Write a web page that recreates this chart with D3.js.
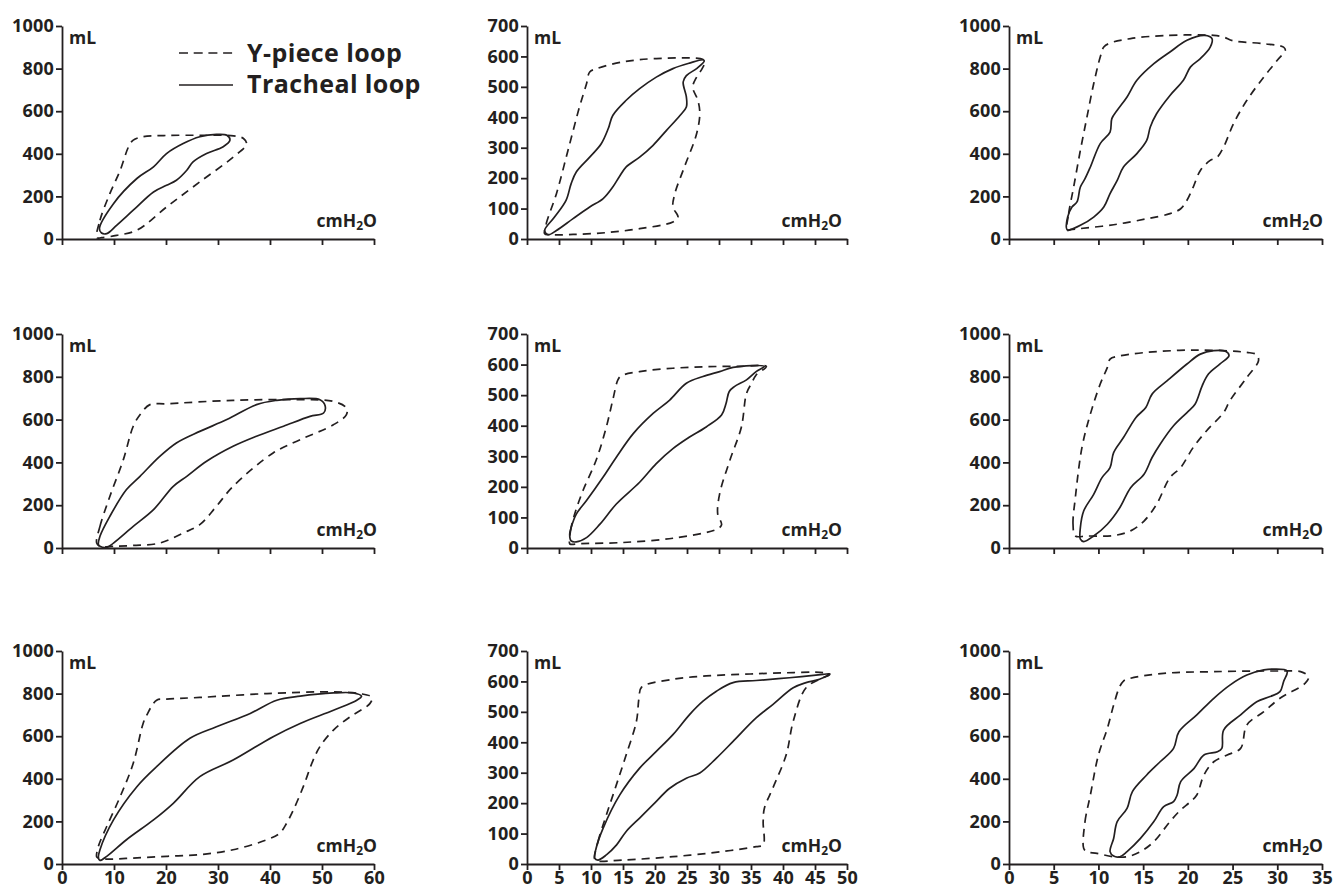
<!DOCTYPE html>
<html>
<head>
<meta charset="utf-8">
<script src="https://cdn.jsdelivr.net/npm/d3@7"></script>
<style>
  html, body { margin: 0; padding: 0; background: #fff; }
  svg { display: block; }
  .tick text { font-family: "Open Sans", sans-serif; font-weight: 700; font-size: 18px; fill: #231f20; letter-spacing: 0.2px; }
  .lbl { font-family: "Open Sans", sans-serif; font-weight: 700; font-size: 17.5px; fill: #231f20; }
  .leg { font-family: "Open Sans", sans-serif; font-weight: 700; font-size: 25px; fill: #231f20; letter-spacing: 0.4px; }
</style>
</head>
<body>
<svg id="chart" width="1336" height="887"></svg>
<script>
// ---------- DATA ----------
const seriesNames = ["Y-piece loop", "Tracheal loop"];
const xUnit = "cmH\u2082O";
const yUnit = "mL";

const xTicksCol1 = [0, 10, 20, 30, 40, 50, 60];
const xTicksCol2 = [0, 5, 10, 15, 20, 25, 30, 35, 40, 45, 50];
const xTicksCol3 = [0, 5, 10, 15, 20, 25, 30, 35];
const yTicksCol1 = [0, 200, 400, 600, 800, 1000];
const yTicksCol2 = [0, 100, 200, 300, 400, 500, 600, 700];
const yTicksCol3 = [0, 200, 400, 600, 800, 1000];

// Panel 1 (row 1, col 1)
const p1Ypiece = [[6.7,6],[7.3,88],[9.2,213],[11.2,323],[12.8,433],[13.7,464],[15.6,480],[20.1,486],[26.5,487],[33,484],[34.9,472],[35.5,446],[33,386],[26.5,268],[20.1,150],[14.4,41],[10.5,17],[7.6,6]];
const p1Tracheal = [[7.2,49],[9.9,166],[14.4,284],[17.6,339],[20.1,401],[23.3,448],[26.5,480],[29.7,491],[31.7,487],[32.3,464],[31,433],[27.8,401],[25.2,362],[24,323],[22,276],[20.1,252],[17.6,221],[13.7,135],[10.5,64],[8.6,25],[7.6,28]];
// Panel 2 (row 1, col 2)
const p2Ypiece = [[2.76,17],[3.0,50],[4.6,149],[6.4,291],[8.2,434],[9.3,510],[9.8,549],[10.9,560],[15,582],[20.2,593],[27.5,590],[27.8,582],[27.2,554],[26.5,532],[25.9,499],[26.7,456],[27,412],[26.5,346],[24.6,237],[23.1,149],[22.8,105],[23.6,72],[22.8,56],[17.6,34],[12.4,21],[7.2,15],[3.5,14]];
const p2Tracheal = [[2.76,28],[4.3,72],[6.1,127],[6.9,182],[7.7,220],[9.8,269],[11.6,313],[12.7,363],[13.4,406],[15.5,456],[17.6,494],[20.2,532],[22.8,560],[25.4,578],[27.5,589],[27.7,585],[26.5,560],[24.9,537],[24.4,516],[24.9,467],[24.9,434],[23.9,406],[21.8,357],[19.7,308],[17.6,269],[15.5,237],[14.4,204],[13.4,171],[11.9,133],[9.8,105],[7.2,67],[4.6,28],[3.3,14]];
// Panel 3 (row 1, col 3)
const p3Ypiece = [[6.49,41],[6.67,119],[7.23,244],[7.98,416],[8.72,573],[9.47,729],[10.2,854],[10.6,901],[11.3,920],[13.6,941],[17.3,955],[22.9,956],[24,948],[25.1,930],[28.5,917],[30.7,901],[30.9,886],[30,839],[28.5,761],[26.6,651],[25.1,541],[24,432],[23.3,385],[22.5,369],[21.4,322],[20.6,244],[19.9,182],[19.2,142],[18,119],[15.4,95],[11.7,67],[8,49],[6.9,44]];
const p3Tracheal = [[6.49,44],[6.56,103],[7.04,150],[7.6,174],[7.98,244],[8.5,283],[9.1,338],[10.2,448],[11.3,502],[11.5,565],[12.1,604],[13.2,667],[14.3,745],[16.2,823],[18,878],[19.9,933],[21.9,956],[22.7,941],[22.5,901],[21.4,847],[20.3,808],[19.5,745],[18,674],[16.5,588],[15.8,526],[15.4,463],[14.3,401],[12.8,338],[12.1,275],[11.3,213],[10.6,150],[9.47,103],[7.98,64],[6.86,44]];
// Panel 4 (row 2, col 1)
const p4Ypiece = [[6.67,23],[7.3,101],[9.2,241],[11.8,413],[13.7,569],[15,623],[16.9,670],[20.1,674],[32.9,690],[45.6,693],[52.2,685],[54.7,654],[54.7,623],[52.2,576],[45.8,506],[40.6,444],[32.9,288],[29.7,195],[26.5,109],[23.3,70],[18.8,23],[13.7,12],[9.9,8],[7.3,8]];
const p4Tracheal = [[7,16],[7.3,55],[9.2,148],[12.4,273],[15,335],[18.8,428],[22,491],[26.5,545],[31.7,600],[37.4,670],[41.3,690],[45.8,698],[49.6,693],[50.6,665],[50.3,631],[47.7,615],[42.6,569],[37.4,522],[32.9,475],[27.8,405],[24,335],[21.4,288],[17.6,179],[13.7,101],[9.9,23],[8.6,3],[7.3,8]];
// Panel 5 (row 2, col 2)
const p5Ypiece = [[6.67,14],[6.8,56],[7.45,111],[8.75,188],[10.8,287],[12.4,396],[13.4,484],[14.2,550],[14.7,563],[17.6,577],[22.8,588],[28,593],[33.2,594],[37.4,594],[35.8,566],[35.1,539],[34.3,506],[33.5,396],[31.7,287],[30.1,177],[29.8,111],[30.4,76],[29.6,61],[22.8,32],[15,18],[8.2,14],[6.9,12]];
const p5Tracheal = [[6.67,45],[6.9,67],[7.7,111],[9.3,155],[11.9,232],[13.96,297],[16.6,374],[19.7,440],[22.3,484],[24.9,539],[27.5,561],[30.1,577],[32.2,591],[37.1,594],[35.8,577],[34.3,550],[32.4,528],[31.6,512],[31.1,473],[30.4,435],[28,396],[25.4,363],[22.8,325],[20.2,276],[17.6,215],[13.96,144],[11.4,78],[9.3,34],[7.7,20],[6.9,23]];
// Panel 6 (row 2, col 3)
const p6Ypiece = [[7.42,56],[7.16,111],[7.42,236],[8.16,470],[9.1,626],[10.2,766],[11,844],[11.3,883],[12.1,895],[15.4,914],[21,925],[26.6,914],[27.7,903],[27.9,875],[26.6,797],[24.7,688],[24,633],[22.1,548],[20.6,470],[19.2,376],[18,329],[16.5,204],[15.1,126],[13.6,80],[11.7,58],[8.7,56]];
const p6Tracheal = [[7.98,41],[7.98,95],[8.35,173],[9.47,251],[10.4,329],[11.3,376],[11.7,446],[12.8,516],[14.2,610],[15.3,657],[16,719],[17.7,782],[19.9,860],[21.4,906],[22.9,922],[24.2,919],[24.6,899],[23.6,860],[22.3,813],[21.6,758],[20.8,672],[19.9,633],[18.4,571],[16.9,485],[16,423],[15.1,345],[13.6,282],[12.4,189],[11,111],[9.47,56],[8.35,30]];
// Panel 7 (row 3, col 1)
const p7Ypiece = [[6.67,33],[7,83],[8.6,176],[11.2,317],[13.7,473],[15.6,660],[16.3,699],[18.2,769],[20.1,774],[26.5,782],[39.4,800],[52.2,808],[57.3,800],[59.6,782],[59.2,753],[55.4,691],[52.2,629],[49.6,551],[48.3,488],[46.4,363],[44.5,254],[43.2,192],[41.9,145],[39.4,114],[32.9,67],[26.5,44],[20.1,36],[13.7,28],[8.6,23],[7,28]];
const p7Tracheal = [[7,28],[7.3,67],[9.9,207],[14.4,363],[18.2,457],[24.6,590],[29.7,644],[36.2,707],[41.3,769],[45.8,788],[52.2,803],[56,803],[57.6,788],[56.7,769],[52.2,722],[45.8,660],[40.6,598],[32.9,488],[26.5,410],[21.4,285],[17.6,207],[12.4,114],[8.6,36],[7.3,17]];
// Panel 8 (row 3, col 2)
const p8Ypiece = [[10.57,16],[11.1,74],[12.4,161],[13.96,260],[15.5,359],[17.1,469],[17.5,546],[17.9,581],[22.8,607],[28,618],[33.2,623],[38.4,627],[46.25,629],[47.3,623],[46.25,612],[43.6,579],[41.6,469],[40.5,359],[38.4,249],[37.1,184],[36.9,140],[36.9,63],[35.8,57],[30.6,41],[22.8,24],[15,13],[10.9,10]];
const p8Tracheal = [[10.57,19],[10.8,52],[11.9,118],[14.5,227],[17.6,315],[20.2,370],[22.8,425],[25.4,491],[27.5,535],[29.6,568],[32.2,596],[35.8,603],[41,612],[46.25,623],[47.3,625],[45.7,607],[43.6,596],[41.6,579],[38.4,524],[35.8,480],[32.2,403],[29.6,348],[27,299],[24.9,282],[22.3,249],[19.7,195],[17.6,151],[15.5,107],[14,63],[12.4,30],[11.1,13]];
// Panel 9 (row 3, col 3)
const p9Ypiece = [[8.35,74],[8.5,199],[9.1,324],[10,512],[11,637],[11.7,746],[12.3,825],[12.8,859],[13.6,872],[17.3,895],[22.9,903],[30.3,906],[32.6,903],[33.5,879],[33.1,848],[30.3,778],[28.5,715],[26.6,653],[25.9,543],[24.4,512],[22.9,480],[21.8,418],[21,324],[20.3,293],[19.2,254],[18,199],[16.2,105],[14.7,58],[13.2,34],[11.7,34],[9.84,50],[8.7,58]];
const p9Tracheal = [[11.3,58],[11.7,120],[12.1,199],[13.2,261],[13.8,340],[15.4,418],[16.9,480],[18.4,543],[19,621],[21,700],[22.9,778],[24.7,840],[26.6,887],[28.5,911],[29.6,915],[31.1,906],[30.7,856],[30.3,809],[29.2,786],[27.7,762],[25.9,700],[24,629],[23.8,543],[23.3,527],[21.8,512],[20.7,449],[19.2,387],[18.8,324],[18.4,293],[17.3,269],[16.2,199],[14.7,120],[13.2,58],[12.4,34],[11.7,37]];

// ---------- LAYOUT ----------
const svg = d3.select("#chart");
const ink = "#231f20";
const cols = [
  {x0: 62,   x1: 374,  xTicks: xTicksCol1, yTicks: yTicksCol1, unitDx: 3},
  {x0: 527,  x1: 847,  xTicks: xTicksCol2, yTicks: yTicksCol2, unitDx: -5},
  {x0: 1009, x1: 1322, xTicks: xTicksCol3, yTicks: yTicksCol3, unitDx: 1}
];
const rows = [
  {yt: 26,  yb: 239},
  {yt: 334, yb: 548},
  {yt: 651, yb: 864}
];
const panels = [
  [p1Ypiece, p1Tracheal], [p2Ypiece, p2Tracheal], [p3Ypiece, p3Tracheal],
  [p4Ypiece, p4Tracheal], [p5Ypiece, p5Tracheal], [p6Ypiece, p6Tracheal],
  [p7Ypiece, p7Tracheal], [p8Ypiece, p8Tracheal], [p9Ypiece, p9Tracheal]
];

panels.forEach((loops, i) => {
  const r = Math.floor(i / 3), c = i % 3;
  const col = cols[c], row = rows[r];
  const xs = col.xTicks, ys = col.yTicks;
  const x = d3.scaleLinear().domain([xs[0], xs[xs.length - 1]]).range([col.x0, col.x1]);
  const y = d3.scaleLinear().domain([ys[0], ys[ys.length - 1]]).range([row.yb, row.yt]);
  const g = svg.append("g");

  const line = d3.line().x(d => x(d[0])).y(d => y(d[1])).curve(d3.curveCatmullRomClosed.alpha(0.5));
  g.append("path").datum(loops[0]).attr("d", line)
    .attr("fill", "none").attr("stroke", ink).attr("stroke-width", 1.7).attr("stroke-dasharray", "8,6");
  g.append("path").datum(loops[1]).attr("d", line)
    .attr("fill", "none").attr("stroke", ink).attr("stroke-width", 1.7);

  const ax = g.append("g").attr("transform", `translate(0,${row.yb})`)
    .call(d3.axisBottom(x).tickValues(xs).tickSize(6).tickSizeOuter(0).tickPadding(1)
      .tickFormat(r === 2 ? d3.format("d") : () => ""));
  const ay = g.append("g").attr("transform", `translate(${col.x0},0)`)
    .call(d3.axisLeft(y).tickValues(ys).tickSize(6).tickSizeOuter(0).tickPadding(2).tickFormat(d3.format("d")));
  [ax, ay].forEach(a => {
    a.attr("font-family", null).attr("font-size", null);
    a.select(".domain").attr("stroke", ink).attr("stroke-width", 1.8);
    a.selectAll(".tick line").attr("stroke", ink).attr("stroke-width", 1.8);
  });

  g.append("text").attr("class", "lbl").attr("x", col.x0 + 7).attr("y", row.yt + 18).text(yUnit);
  const t = g.append("text").attr("class", "lbl").attr("text-anchor", "end")
    .attr("x", col.x1 + col.unitDx).attr("y", row.yb - 12);
  t.append("tspan").text("cmH");
  t.append("tspan").attr("font-size", "12px").attr("dy", 3).text("2");
  t.append("tspan").attr("dy", -3).text("O");
});

// ---------- LEGEND ----------
const leg = svg.append("g");
[0, 1].forEach(k => {
  const ly = k === 0 ? 53 : 85;
  leg.append("line").attr("x1", 179).attr("x2", 233).attr("y1", ly).attr("y2", ly)
    .attr("stroke", ink).attr("stroke-width", 1.7)
    .attr("stroke-dasharray", k === 0 ? "9,5.7" : null);
  leg.append("text").attr("class", "leg").attr("x", 247).attr("y", k === 0 ? 62 : 93).text(seriesNames[k]);
});
</script>
</body>
</html>
